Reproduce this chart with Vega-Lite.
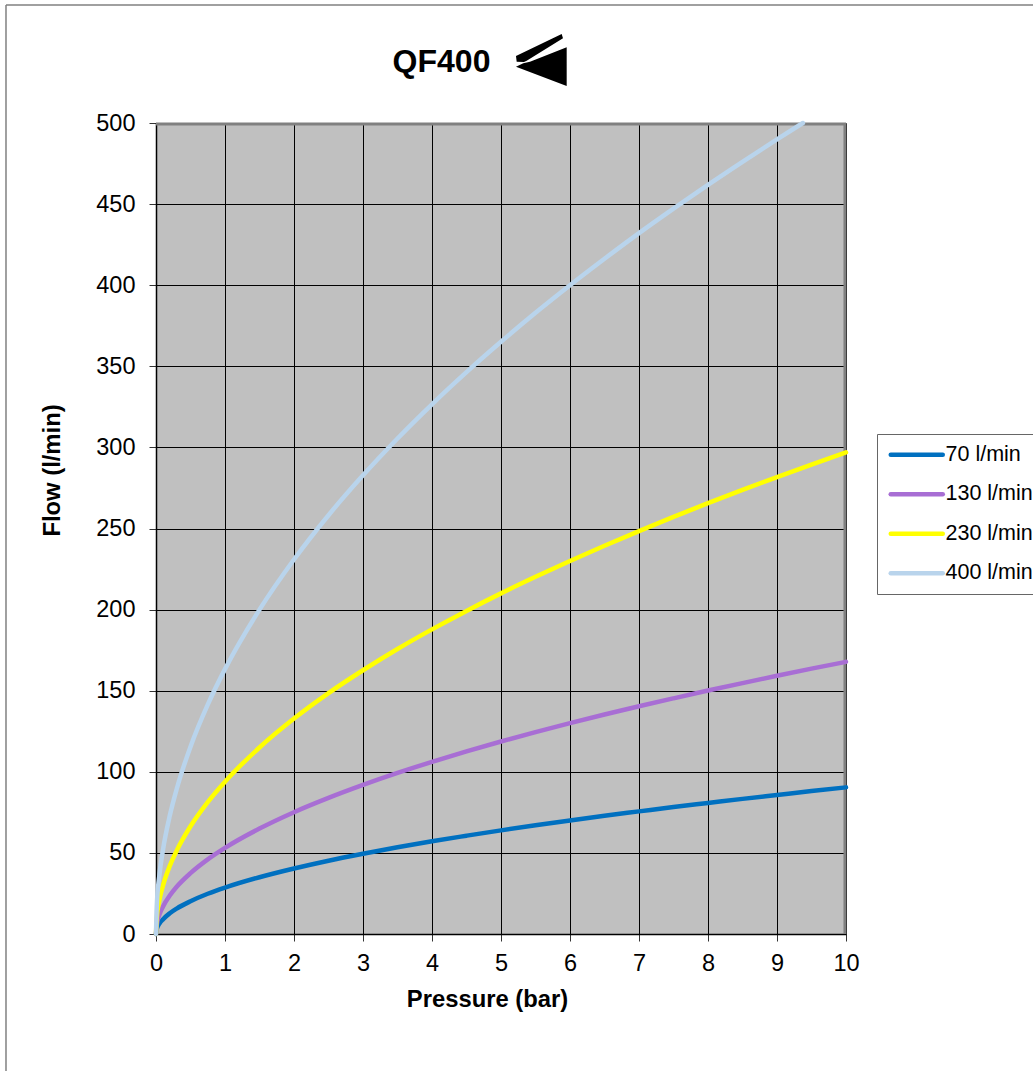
{"$schema":"https://vega.github.io/schema/vega-lite/v6.json","width":690,"height":811,"autosize":"none","padding":{"left":156,"top":123,"right":187,"bottom":137},"background":"white","view":{"fill":"#C0C0C0","stroke":null},"config":{"font":"Liberation Sans"},"data":{"values":[
{"p":0,"q":0,"s":"70 l/min"},{"p":0.01,"q":2.9,"s":"70 l/min"},{"p":0.05,"q":6.4,"s":"70 l/min"},{"p":0.1,"q":9.0,"s":"70 l/min"},{"p":0.2,"q":12.8,"s":"70 l/min"},{"p":0.3,"q":15.7,"s":"70 l/min"},{"p":0.5,"q":20.2,"s":"70 l/min"},{"p":0.75,"q":24.8,"s":"70 l/min"},{"p":1,"q":28.6,"s":"70 l/min"},{"p":1.5,"q":35.0,"s":"70 l/min"},{"p":2,"q":40.4,"s":"70 l/min"},{"p":2.5,"q":45.2,"s":"70 l/min"},{"p":3,"q":49.5,"s":"70 l/min"},{"p":3.5,"q":53.5,"s":"70 l/min"},{"p":4,"q":57.2,"s":"70 l/min"},{"p":4.5,"q":60.6,"s":"70 l/min"},{"p":5,"q":63.9,"s":"70 l/min"},{"p":5.5,"q":67.0,"s":"70 l/min"},{"p":6,"q":70,"s":"70 l/min"},{"p":6.5,"q":72.9,"s":"70 l/min"},{"p":7,"q":75.6,"s":"70 l/min"},{"p":7.5,"q":78.3,"s":"70 l/min"},{"p":8,"q":80.8,"s":"70 l/min"},{"p":8.5,"q":83.3,"s":"70 l/min"},{"p":9,"q":85.7,"s":"70 l/min"},{"p":9.5,"q":88.1,"s":"70 l/min"},{"p":10,"q":90.4,"s":"70 l/min"},
{"p":0,"q":0,"s":"130 l/min"},{"p":0.01,"q":5.3,"s":"130 l/min"},{"p":0.05,"q":11.9,"s":"130 l/min"},{"p":0.1,"q":16.8,"s":"130 l/min"},{"p":0.2,"q":23.7,"s":"130 l/min"},{"p":0.3,"q":29.1,"s":"130 l/min"},{"p":0.5,"q":37.5,"s":"130 l/min"},{"p":0.75,"q":46.0,"s":"130 l/min"},{"p":1,"q":53.1,"s":"130 l/min"},{"p":1.5,"q":65.0,"s":"130 l/min"},{"p":2,"q":75.1,"s":"130 l/min"},{"p":2.5,"q":83.9,"s":"130 l/min"},{"p":3,"q":91.9,"s":"130 l/min"},{"p":3.5,"q":99.3,"s":"130 l/min"},{"p":4,"q":106.1,"s":"130 l/min"},{"p":4.5,"q":112.6,"s":"130 l/min"},{"p":5,"q":118.7,"s":"130 l/min"},{"p":5.5,"q":124.5,"s":"130 l/min"},{"p":6,"q":130,"s":"130 l/min"},{"p":6.5,"q":135.3,"s":"130 l/min"},{"p":7,"q":140.4,"s":"130 l/min"},{"p":7.5,"q":145.3,"s":"130 l/min"},{"p":8,"q":150.1,"s":"130 l/min"},{"p":8.5,"q":154.7,"s":"130 l/min"},{"p":9,"q":159.2,"s":"130 l/min"},{"p":9.5,"q":163.6,"s":"130 l/min"},{"p":10,"q":167.8,"s":"130 l/min"},
{"p":0,"q":0,"s":"230 l/min"},{"p":0.01,"q":9.4,"s":"230 l/min"},{"p":0.05,"q":21.0,"s":"230 l/min"},{"p":0.1,"q":29.7,"s":"230 l/min"},{"p":0.2,"q":42.0,"s":"230 l/min"},{"p":0.3,"q":51.4,"s":"230 l/min"},{"p":0.5,"q":66.4,"s":"230 l/min"},{"p":0.75,"q":81.3,"s":"230 l/min"},{"p":1,"q":93.9,"s":"230 l/min"},{"p":1.5,"q":115.0,"s":"230 l/min"},{"p":2,"q":132.8,"s":"230 l/min"},{"p":2.5,"q":148.5,"s":"230 l/min"},{"p":3,"q":162.6,"s":"230 l/min"},{"p":3.5,"q":175.7,"s":"230 l/min"},{"p":4,"q":187.8,"s":"230 l/min"},{"p":4.5,"q":199.2,"s":"230 l/min"},{"p":5,"q":210.0,"s":"230 l/min"},{"p":5.5,"q":220.2,"s":"230 l/min"},{"p":6,"q":230,"s":"230 l/min"},{"p":6.5,"q":239.4,"s":"230 l/min"},{"p":7,"q":248.4,"s":"230 l/min"},{"p":7.5,"q":257.2,"s":"230 l/min"},{"p":8,"q":265.6,"s":"230 l/min"},{"p":8.5,"q":273.8,"s":"230 l/min"},{"p":9,"q":281.7,"s":"230 l/min"},{"p":9.5,"q":289.4,"s":"230 l/min"},{"p":10,"q":296.9,"s":"230 l/min"},
{"p":0,"q":0,"s":"400 l/min"},{"p":0.01,"q":16.3,"s":"400 l/min"},{"p":0.05,"q":36.5,"s":"400 l/min"},{"p":0.1,"q":51.6,"s":"400 l/min"},{"p":0.2,"q":73.0,"s":"400 l/min"},{"p":0.3,"q":89.4,"s":"400 l/min"},{"p":0.5,"q":115.5,"s":"400 l/min"},{"p":0.75,"q":141.4,"s":"400 l/min"},{"p":1,"q":163.3,"s":"400 l/min"},{"p":1.5,"q":200.0,"s":"400 l/min"},{"p":2,"q":230.9,"s":"400 l/min"},{"p":2.5,"q":258.2,"s":"400 l/min"},{"p":3,"q":282.8,"s":"400 l/min"},{"p":3.5,"q":305.5,"s":"400 l/min"},{"p":4,"q":326.6,"s":"400 l/min"},{"p":4.5,"q":346.4,"s":"400 l/min"},{"p":5,"q":365.1,"s":"400 l/min"},{"p":5.5,"q":383.0,"s":"400 l/min"},{"p":6,"q":400,"s":"400 l/min"},{"p":6.5,"q":416.3,"s":"400 l/min"},{"p":7,"q":432.1,"s":"400 l/min"},{"p":7.5,"q":447.2,"s":"400 l/min"},{"p":8,"q":461.9,"s":"400 l/min"},{"p":8.5,"q":476.1,"s":"400 l/min"},{"p":9,"q":489.9,"s":"400 l/min"},{"p":9.375,"q":500,"s":"400 l/min"}
]},
"layer":[
{"data":{"values":[{}]},"mark":{"type":"rule","color":"#808080","strokeWidth":3,"clip":false},"encoding":{"x":{"datum":9.985},"y":{"datum":0},"y2":{"datum":500}}},
{"data":{"values":[{}]},"mark":{"type":"rule","color":"#808080","strokeWidth":3,"clip":false},"encoding":{"x":{"datum":0},"x2":{"datum":10},"y":{"datum":499.4}}},
{"mark":{"type":"line","strokeWidth":4.5,"strokeCap":"round","interpolate":"monotone"},
"encoding":{
"x":{"field":"p","type":"quantitative","scale":{"domain":[0,10],"nice":false},"axis":{"title":"Pressure (bar)","format":"d","values":[0,1,2,3,4,5,6,7,8,9,10],"grid":true,"gridColor":"black","gridWidth":1,"gridOpacity":1,"domainColor":"black","domainWidth":1.5,"tickColor":"#333333","tickSize":7,"labelFontSize":23.5,"labelColor":"black","labelFont":"Liberation Sans","labelPadding":10,"labelFlush":false,"labelOverlap":false,"titleFont":"Liberation Sans","titleFontSize":23.8,"titleFontWeight":"bold","titleColor":"black","titleX":331,"titleY":72,"titleBaseline":"alphabetic"}},
"y":{"field":"q","type":"quantitative","scale":{"domain":[0,500],"nice":false},"axis":{"title":"Flow (l/min)","values":[0,50,100,150,200,250,300,350,400,450,500],"grid":true,"gridColor":"black","gridWidth":1,"gridOpacity":1,"domainColor":"black","domainWidth":1.5,"tickColor":"#333333","tickSize":7,"labelFontSize":23.5,"labelColor":"black","labelFont":"Liberation Sans","labelPadding":14,"labelOverlap":false,"titleFont":"Liberation Sans","titleFontSize":23.8,"titleFontWeight":"bold","titleColor":"black","titleX":-97,"titleY":347,"titleBaseline":"alphabetic"}},
"color":{"field":"s","type":"nominal","sort":["70 l/min","130 l/min","230 l/min","400 l/min"],"scale":{"domain":["70 l/min","130 l/min","230 l/min","400 l/min"],"range":["#0070C0","#A86ED4","#FFFF00","#B9D4EC"]},"legend":{"title":null,"orient":"none","legendX":721,"legendY":311,"fillColor":"white","strokeColor":"#666666","padding":10,"symbolType":"M-7,0L45,0","symbolSize":4,"symbolStrokeWidth":4.5,"labelFont":"Liberation Sans","labelFontSize":21.5,"labelColor":"black","labelOffset":37,"rowPadding":16.5,"labelLimit":120,"encode":{"symbols":{"update":{"strokeCap":{"value":"round"}}}}}}
}},
{"data":{"values":[{}]},"mark":{"type":"point","filled":true,"clip":false,"color":"black","opacity":1,"strokeWidth":0,"size":4,"shape":"M21.7,-28 L23,-23.7 L-13.3,-1.3 L-16,0 L-23.3,-0.3 L-24,-6 Z M26.7,-14.7 L26.7,24 L-24,4.7 L-16.7,1.3 L-10,-0.3 Z"},
"encoding":{"x":{"datum":5.565},"y":{"datum":537.6}}},
{"data":{"values":[{"t":"QF400"}]},"mark":{"type":"text","clip":false,"font":"Liberation Sans","fontSize":32,"fontWeight":"bold","color":"black","align":"center","baseline":"alphabetic"},
"encoding":{"x":{"datum":4.138},"y":{"datum":531.5},"text":{"field":"t"}}},
{"data":{"values":[{}]},"mark":{"type":"rule","color":"#808080","strokeWidth":1.5,"clip":false},"encoding":{"x":{"datum":-2.174},"y":{"datum":-85},"y2":{"datum":572.7}}},
{"data":{"values":[{}]},"mark":{"type":"rule","color":"#808080","strokeWidth":1.5,"clip":false},"encoding":{"x":{"datum":-2.174},"x2":{"datum":12.72},"y":{"datum":572.7}}}
]}
